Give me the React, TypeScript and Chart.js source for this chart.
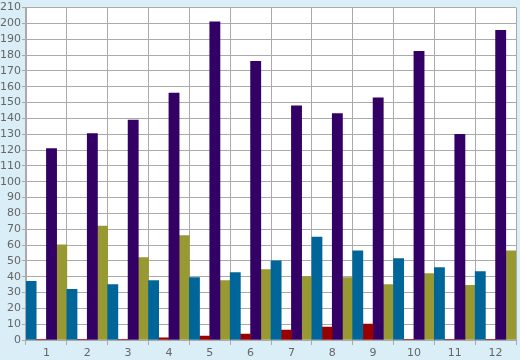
import React, { useEffect, useRef } from "react";
import { Chart, registerables } from "chart.js";

Chart.register(...registerables);

const categories = ["1", "2", "3", "4", "5", "6", "7", "8", "9", "10", "11", "12"];
const seriesBlue = [37, 32, 35, 37.6, 39.5, 42.6, 50, 65, 56.4, 51.4, 45.8, 43.3];
const seriesRed = [0.5, 0.5, 0.5, 1.3, 2.5, 3.8, 6.3, 8.2, 10, 0.5, 0.5, 0.5];
const seriesPurple = [121, 130.4, 139, 156, 201, 176, 148, 143, 153, 182.4, 130, 195.6];
const seriesOlive = [60.2, 72, 52, 66, 37.6, 44.5, 40, 39.5, 35, 42, 34.5, 56.4];

const bgPlugin = {
  id: "bgPlugin",
  beforeDraw(chart: any) {
    const { ctx, chartArea, width, height } = chart;
    ctx.save();
    ctx.fillStyle = "#d9eef6";
    ctx.fillRect(0, 0, width, height);
    ctx.fillStyle = "#ffffff";
    ctx.fillRect(chartArea.left, chartArea.top, chartArea.right - chartArea.left, chartArea.bottom - chartArea.top);
    ctx.restore();
  },
};

export default function App() {
  const ref = useRef<HTMLCanvasElement | null>(null);
  useEffect(() => {
    document.body.style.margin = "0";
    const mk = (label: string, data: number[], color: string) => ({
      label,
      data,
      backgroundColor: color,
      borderWidth: 0,
      barPercentage: 1,
      categoryPercentage: 1,
    });
    const chart = new Chart(ref.current as HTMLCanvasElement, {
      type: "bar",
      data: {
        labels: categories,
        datasets: [
          mk("A", seriesBlue, "#006699"),
          mk("B", seriesRed, "#990000"),
          mk("C", seriesPurple, "#330066"),
          mk("D", seriesOlive, "#999933"),
        ],
      },
      options: {
        animation: false,
        responsive: false,
        layout: { padding: { top: 5, right: 4, left: 0, bottom: 0 } },
        plugins: { legend: { display: false }, tooltip: { enabled: false } },
        scales: {
          x: {
            grid: { color: "#aaaaaa", lineWidth: 1, tickLength: 5, offset: true },
            border: { color: "#aaaaaa" },
            ticks: { color: "#666666", font: { family: "DejaVu Sans", size: 11 }, padding: 2 },
            afterFit: (s: any) => { s.height = 20; },
          },
          y: {
            min: 0,
            max: 210,
            grid: { color: "#aaaaaa", lineWidth: 1, tickLength: 4 },
            border: { color: "#aaaaaa" },
            ticks: { stepSize: 10, color: "#666666", font: { family: "DejaVu Sans", size: 11 }, padding: 1, autoSkip: false },
            afterFit: (s: any) => { s.width = 26; },
          },
        },
      },
      plugins: [bgPlugin],
    });
    return () => chart.destroy();
  }, []);
  return <canvas ref={ref} width={520} height={360} style={{ display: "block" }} />;
}
